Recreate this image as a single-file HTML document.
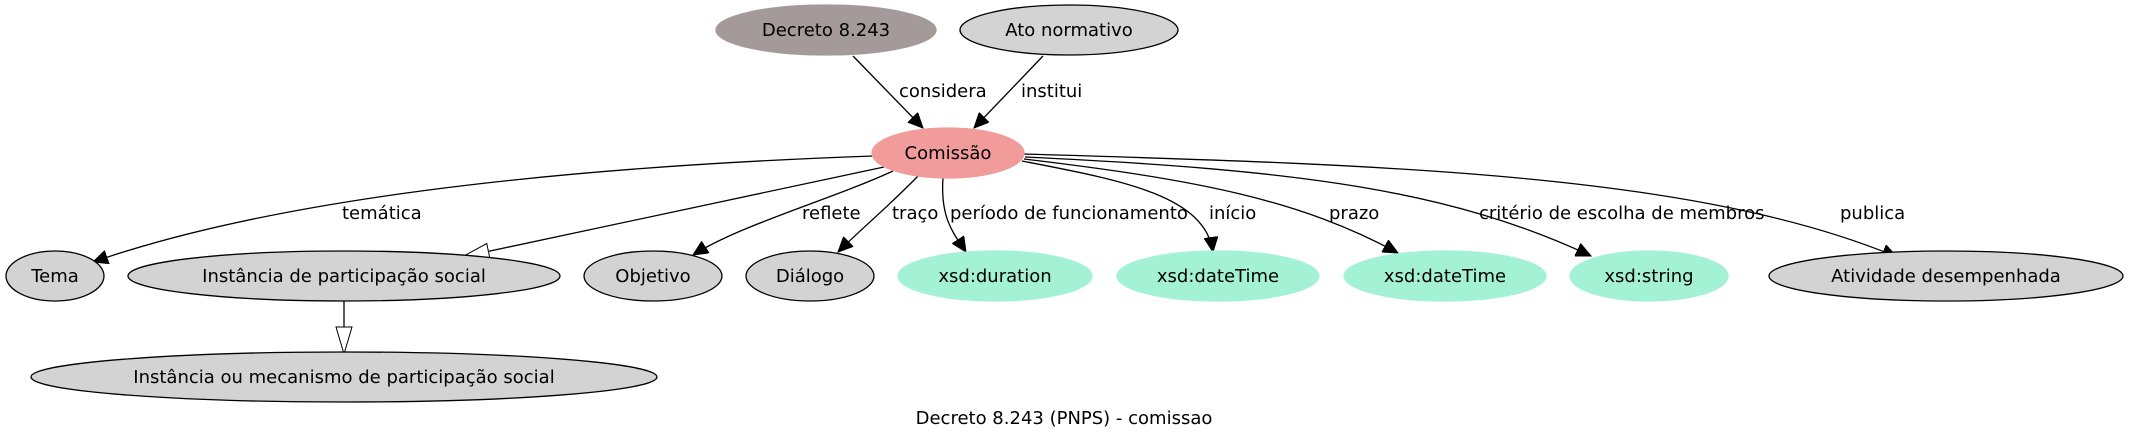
<!DOCTYPE html>
<html><head><meta charset="utf-8"><style>html,body{margin:0;padding:0;background:#fff}svg{display:block}text{font-family:"DejaVu Sans","Liberation Sans",sans-serif;font-size:18px}</style></head>
<body>
<svg width="2129" height="443" viewBox="0 0 2129 443" xmlns="http://www.w3.org/2000/svg">
<defs>
<marker id="a" markerUnits="userSpaceOnUse" markerWidth="16" markerHeight="14" refX="15" refY="7" orient="auto"><path d="M0,0 L15,7 L0,14 Z" fill="#000" stroke="#000"/></marker>
<marker id="h" markerUnits="userSpaceOnUse" markerWidth="30" markerHeight="18" refX="28" refY="9" orient="auto"><path d="M1,1 L28,9 L1,17 Z" fill="#fff" stroke="#000"/></marker>
</defs>
<g fill="none" stroke="#000" stroke-width="1.3">
<path d="M853,56 L923,128" marker-end="url(#a)"/>
<path d="M1043,56 L974,128" marker-end="url(#a)"/>
<path d="M873,156 C620,165 300,190 93,262" marker-end="url(#a)"/>
<path d="M884,167 L462,257" marker-end="url(#h)"/>
<path d="M893,171 C830,200 740,225 693,255" marker-end="url(#a)"/>
<path d="M918,176 C890,205 860,230 838,252" marker-end="url(#a)"/>
<path d="M943,178 C940,220 955,235 966,252" marker-end="url(#a)"/>
<path d="M1022,161 C1120,180 1205,195 1213,252" marker-end="url(#a)"/>
<path d="M1024,159 C1200,180 1300,200 1398,253" marker-end="url(#a)"/>
<path d="M1025,157 C1300,170 1450,190 1591,256" marker-end="url(#a)"/>
<path d="M1024,154 C1400,165 1700,175 1897,257" marker-end="url(#a)"/>
<path d="M344,301 L344,354" marker-end="url(#h)"/>
</g>
<g stroke="#000" stroke-width="1.3">
<ellipse cx="826" cy="30" rx="110" ry="25" fill="#a39a99" stroke="#a39a99"/>
<ellipse cx="1069" cy="30" rx="109" ry="25" fill="#d3d3d3"/>
<ellipse cx="948" cy="153" rx="76" ry="25" fill="#f19c9a" stroke="#f19c9a"/>
<ellipse cx="55" cy="276" rx="49" ry="25" fill="#d3d3d3"/>
<ellipse cx="344" cy="276" rx="216" ry="25" fill="#d3d3d3"/>
<ellipse cx="653" cy="276" rx="69" ry="25" fill="#d3d3d3"/>
<ellipse cx="810" cy="276" rx="64" ry="25" fill="#d3d3d3"/>
<ellipse cx="995" cy="276" rx="97" ry="25" fill="#a3f2d5" stroke="#a3f2d5"/>
<ellipse cx="1218" cy="276" rx="101" ry="25" fill="#a3f2d5" stroke="#a3f2d5"/>
<ellipse cx="1445" cy="276" rx="101" ry="25" fill="#a3f2d5" stroke="#a3f2d5"/>
<ellipse cx="1649" cy="276" rx="79" ry="25" fill="#a3f2d5" stroke="#a3f2d5"/>
<ellipse cx="1946" cy="276" rx="177" ry="25" fill="#d3d3d3"/>
<ellipse cx="344" cy="377" rx="313" ry="25" fill="#d3d3d3"/>
</g>
<g text-anchor="middle" fill="#000">
<text x="826" y="36">Decreto 8.243</text>
<text x="1069" y="36">Ato normativo</text>
<text x="948" y="159">Comissão</text>
<text x="55" y="282">Tema</text>
<text x="344" y="282">Instância de participação social</text>
<text x="653" y="282">Objetivo</text>
<text x="810" y="282">Diálogo</text>
<text x="995" y="282">xsd:duration</text>
<text x="1218" y="282">xsd:dateTime</text>
<text x="1445" y="282">xsd:dateTime</text>
<text x="1649" y="282">xsd:string</text>
<text x="1946" y="282">Atividade desempenhada</text>
<text x="344" y="383">Instância ou mecanismo de participação social</text>
<text x="1064" y="424">Decreto 8.243 (PNPS) - comissao</text>
</g>
<g fill="#000">
<text x="899" y="97">considera</text>
<text x="1021" y="97">institui</text>
<text x="342" y="219">temática</text>
<text x="802" y="219">reflete</text>
<text x="892" y="219">traço</text>
<text x="950" y="219">período de funcionamento</text>
<text x="1209" y="219">início</text>
<text x="1329" y="219">prazo</text>
<text x="1479" y="219">critério de escolha de membros</text>
<text x="1840" y="219">publica</text>
</g>
</svg>
</body></html>
